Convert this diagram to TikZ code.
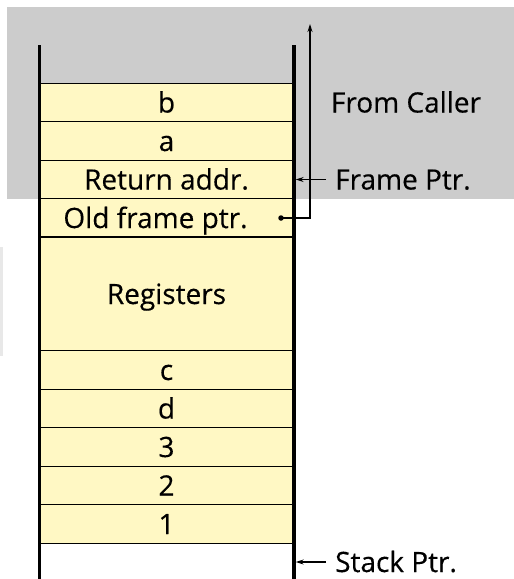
\documentclass[tikz,border=0pt]{standalone}
\usepackage{fontspec}
\setmainfont{Open Sans}[UprightFeatures={FakeBold=0.35}]
\usetikzlibrary{arrows.meta}
\definecolor{bgray}{HTML}{CCCCCC}
\definecolor{cellyellow}{HTML}{FFF8C4}
\tikzset{
  cell/.style={draw=black, line width=1.1pt, fill=cellyellow, minimum width=253pt,
    inner sep=0pt, font=\fontsize{28}{30}\selectfont, text height=20pt, text depth=0pt},
  wall/.style={line width=3.4pt, line cap=butt},
  lbl/.style={font=\fontsize{28}{30}\selectfont, inner sep=0pt, text height=20pt, text depth=0pt},
  ptr/.style={line width=1.1pt, -{Stealth[length=8pt,width=5pt]}},
}
\begin{document}
\begin{tikzpicture}[x=1pt,y=-1pt]
\useasboundingbox (0,0) rectangle (514,579);
% background region "from caller"
\fill[bgray] (7,7) rectangle (514,199);
% faint shadow at left
\fill[gray!18] (0,247) rectangle (3,356);
% cells
\node[cell, minimum height=38.6pt] (b)   at (166.5,102.5) {b};
\node[cell, minimum height=38.6pt] (a)   at (166.5,141)   {a};
\node[cell, minimum height=38.6pt] (ret) at (166.5,179.5) {Return addr.};
\node[cell, minimum height=38.6pt] (old) at (166.5,218)   {\hspace*{4pt}Old frame ptr.\hspace*{26pt}};
\node[cell, minimum height=114pt]  (reg) at (166.5,294)   {Registers};
\node[cell, minimum height=38.6pt] (c)   at (166.5,370)   {c};
\node[cell, minimum height=38.6pt] (d)   at (166.5,408.5) {d};
\node[cell, minimum height=38.6pt] (n3)  at (166.5,447)   {3};
\node[cell, minimum height=38.6pt] (n2)  at (166.5,485.5) {2};
\node[cell, minimum height=38.6pt] (n1)  at (166.5,524)   {1};
% walls
\coordinate (lt) at (39.5,45);
\coordinate (lb) at (39.5,579);
\coordinate (rt) at (294,45);
\coordinate (rb) at (294,579);
\draw[wall] (lt) -- (lb);
\draw[wall] (rt) -- (rb);
% labels
\node[lbl] (caller) at (406,102.5) {From Caller};
\node[lbl, anchor=west] (fp) at (335,179.5) {Frame Ptr.};
\node[lbl, anchor=west] (sp) at (335,562) {Stack Ptr.};
% old frame pointer link
\node[circle, fill=black, inner sep=0pt, minimum size=5.5pt] (dot) at (281,218) {};
\coordinate (corner) at (310,218);
\coordinate (top) at (310,24);
\draw[ptr] (dot.center) -- (corner) -- (top);
% pointer arrows
\coordinate (fpw) at (295.7,179.5);
\coordinate (spw) at (295.7,562);
\draw[ptr] ([xshift=-9pt]fp.west) -- (fpw);
\draw[ptr] ([xshift=-9pt]sp.west) -- (spw);
\end{tikzpicture}
\end{document}
